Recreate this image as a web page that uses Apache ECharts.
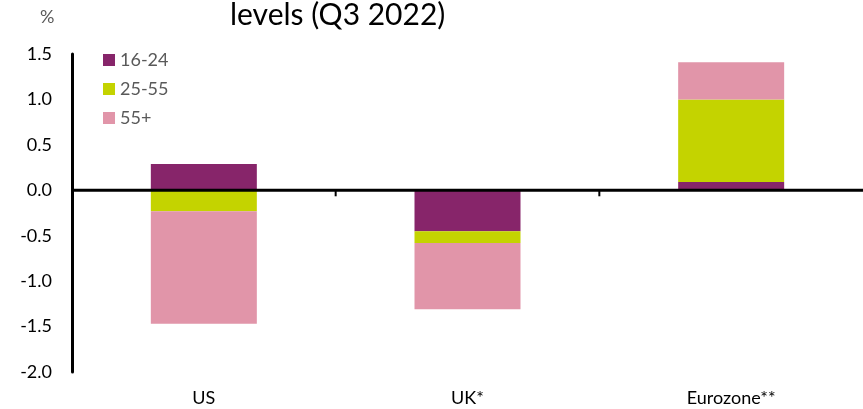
<!DOCTYPE html>
<html>
<head>
<meta charset="utf-8">
<script src="https://cdn.jsdelivr.net/npm/echarts@6/dist/echarts.min.js"></script>
<style>
html,body{margin:0;padding:0;background:#fff;}
#chart{width:863px;height:409px;}
</style>
</head>
<body>
<div id="chart"></div>
<script>
const categories = ['US', 'UK*', 'Eurozone**'];
const seriesNames = ['16-24', '25-55', '55+'];
const age16to24 = [0.29, -0.45, 0.09];
const age25to55 = [-0.23, -0.13, 0.91];
const age55plus = [-1.24, -0.73, 0.41];
const yTicks = { min: -2.0, max: 1.5, interval: 0.5 };
const colors = ['#87256A', '#C4D300', '#E195A9'];

const FONT = 'Lato';
const chart = echarts.init(document.getElementById('chart'));
const values = [age16to24, age25to55, age55plus];

const option = {
  animation: false,
  textStyle: { fontFamily: FONT },
  title: [
    { text: 'levels (Q3 2022)', left: 230, top: 0, padding: 0,
      textStyle: { fontFamily: FONT, fontSize: 30, fontWeight: 'normal', color: '#000' } },
    { text: '%', left: 40, top: 8, padding: 0,
      textStyle: { fontFamily: FONT, fontSize: 18, fontWeight: 'normal', color: '#595959' } }
  ],
  legend: {
    orient: 'vertical', left: 103, top: 51, padding: 0, itemWidth: 12, itemHeight: 12, itemGap: 11,
    icon: 'rect', data: seriesNames,
    textStyle: { fontFamily: FONT, fontSize: 18, color: '#595959' }
  },
  grid: { left: 72, right: 0, top: 54, bottom: 37 },
  xAxis: {
    type: 'category', data: categories, position: 'bottom',
    axisLine: { show: false, onZero: false }, axisTick: { show: false },
    axisLabel: { fontFamily: FONT, fontSize: 18, color: '#000', margin: 17 }
  },
  yAxis: {
    type: 'value', min: yTicks.min, max: yTicks.max, interval: yTicks.interval,
    axisLine: { show: true, lineStyle: { color: '#000', width: 3 } },
    axisTick: { show: false }, splitLine: { show: false },
    axisLabel: { fontFamily: FONT, fontSize: 18, color: '#000', margin: 20,
      formatter: v => v.toFixed(1) }
  },
  series: seriesNames.map((n, i) => ({
    name: n, type: 'bar', stack: 'total', barWidth: 106,
    itemStyle: { color: colors[i] }, data: values[i]
  }))
};
chart.setOption(option);

// zero line across the plot and category boundary ticks
const y0 = chart.convertToPixel({ yAxisIndex: 0 }, 0);
const centers = categories.map((c, i) => chart.convertToPixel({ xAxisIndex: 0 }, i));
const graphics = [{
  type: 'line', shape: { x1: 71, y1: y0, x2: 863, y2: y0 },
  style: { stroke: '#000', lineWidth: 3 }, z: 10
}];
for (let i = 0; i < centers.length - 1; i++) {
  const x = (centers[i] + centers[i + 1]) / 2;
  graphics.push({ type: 'line', shape: { x1: x, y1: y0, x2: x, y2: y0 + 6 },
    style: { stroke: '#000', lineWidth: 2 }, z: 10 });
}
chart.setOption({ graphic: graphics });
</script>
</body>
</html>
